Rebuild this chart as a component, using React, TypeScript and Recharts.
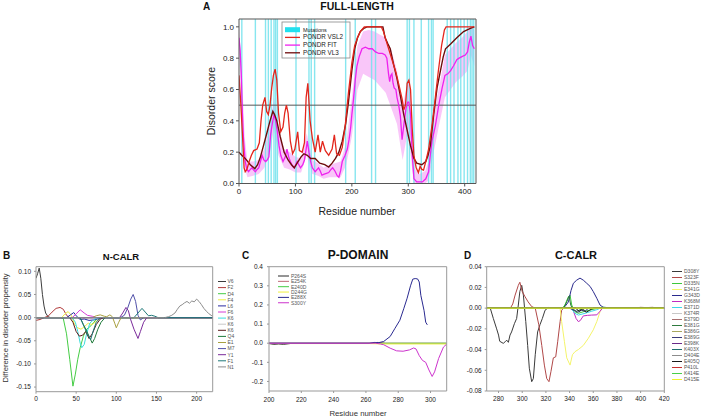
import React from 'react';
import { ComposedChart, Line, Area, XAxis, YAxis, ReferenceLine } from 'recharts';

const FONT = '"Liberation Sans", Arial, Helvetica, sans-serif';
const PW = 708;
const PH = 418;
const AXW = 30; // y-axis box width
const AXH = 20; // x-axis box height

// ---------------- Panel A: full length ----------------
const aXTicks = [0, 100, 200, 300, 400];
const aYTicks = [0, 0.2, 0.4, 0.6, 0.8, 1.0];
const mutations = [5, 29, 47, 52, 57, 62, 65, 68, 101, 124, 128, 134, 189, 206, 235, 242, 298, 302, 310, 323, 336, 341, 344, 369, 375, 381, 388, 393, 399, 405, 410, 413, 416];

const vsl2 = [[0,0.69],[3,0.52],[6,0.32],[9,0.1],[11,0.075],[14,0.09],[18,0.14],[22,0.18],[26,0.21],[32,0.22],[36,0.26],[39,0.4],[42,0.5],[46,0.55],[49,0.46],[52,0.44],[55,0.5],[58,0.61],[61,0.69],[64,0.73],[67,0.66],[70,0.45],[74,0.33],[78,0.36],[81,0.45],[84,0.5],[87,0.45],[91,0.27],[95,0.19],[99,0.22],[104,0.33],[107,0.21],[112,0.2],[116,0.26],[119,0.55],[122,0.64],[126,0.4],[130,0.29],[135,0.2],[140,0.31],[144,0.2],[148,0.27],[153,0.21],[159,0.18],[165,0.22],[169,0.31],[173,0.19],[178,0.18],[183,0.23],[188,0.36],[194,0.58],[200,0.77],[205,0.88],[210,0.93],[215,0.97],[222,1.0],[252,1.0],[256,0.97],[260,0.92],[266,0.85],[272,0.78],[278,0.71],[284,0.62],[289,0.54],[292,0.47],[295,0.5],[298,0.64],[301,0.66],[304,0.6],[307,0.35],[310,0.18],[314,0.1],[318,0.07],[321,0.11],[324,0.09],[327,0.085],[331,0.14],[336,0.22],[342,0.37],[347,0.52],[353,0.71],[359,0.88],[364,0.98],[367,1.0],[417,1.0]];

const fit = [[0,0.93],[2,0.85],[4,0.7],[6,0.45],[8,0.28],[11,0.14],[14,0.09],[17,0.075],[20,0.09],[23,0.1],[26,0.085],[29,0.075],[32,0.09],[35,0.1],[38,0.14],[41,0.18],[44,0.15],[47,0.14],[50,0.15],[53,0.17],[56,0.31],[59,0.38],[62,0.44],[65,0.4],[68,0.33],[71,0.24],[74,0.18],[78,0.14],[82,0.17],[85,0.22],[88,0.17],[91,0.14],[95,0.11],[98,0.1],[103,0.14],[106,0.12],[109,0.1],[113,0.12],[116,0.15],[119,0.22],[121,0.27],[124,0.2],[127,0.14],[130,0.1],[135,0.075],[141,0.1],[144,0.08],[147,0.053],[151,0.06],[155,0.065],[159,0.07],[163,0.09],[166,0.1],[170,0.08],[174,0.05],[177,0.04],[180,0.08],[183,0.14],[188,0.18],[192,0.22],[195,0.28],[198,0.36],[200,0.44],[203,0.54],[206,0.66],[209,0.75],[213,0.81],[218,0.86],[224,0.87],[230,0.86],[236,0.86],[242,0.84],[248,0.83],[254,0.83],[259,0.82],[262,0.8],[265,0.7],[267,0.65],[269,0.69],[271,0.7],[273,0.64],[275,0.61],[278,0.6],[280,0.55],[283,0.5],[286,0.43],[289,0.28],[291,0.34],[293,0.4],[296,0.48],[299,0.52],[301,0.52],[304,0.44],[307,0.18],[310,0.03],[315,0.01],[320,0.01],[325,0.01],[331,0.03],[336,0.075],[339,0.18],[342,0.27],[348,0.37],[354,0.5],[360,0.61],[365,0.69],[370,0.7],[375,0.72],[380,0.75],[386,0.79],[390,0.8],[395,0.81],[401,0.82],[405,0.84],[408,0.9],[411,0.94],[414,0.88],[417,0.86]];

const vl3 = [[0,0.2],[5,0.18],[11,0.16],[20,0.12],[28,0.095],[33,0.12],[38,0.17],[44,0.25],[50,0.33],[55,0.4],[60,0.46],[63,0.44],[67,0.4],[73,0.3],[80,0.2],[87,0.15],[93,0.12],[98,0.1],[103,0.13],[110,0.17],[115,0.19],[121,0.18],[127,0.16],[135,0.16],[143,0.13],[152,0.12],[159,0.105],[165,0.13],[171,0.16],[177,0.2],[183,0.27],[189,0.38],[194,0.52],[200,0.72],[205,0.86],[210,0.93],[215,0.97],[221,0.99],[227,1.0],[255,1.0],[259,0.93],[264,0.89],[268,0.86],[274,0.76],[280,0.67],[286,0.56],[292,0.44],[298,0.34],[304,0.24],[310,0.16],[315,0.13],[324,0.12],[331,0.14],[335,0.18],[339,0.24],[345,0.44],[351,0.61],[357,0.72],[362,0.81],[366,0.86],[375,0.89],[386,0.93],[398,0.97],[410,0.99],[417,1.0]];

// FIT error band: [residue, low, high]
const fitBand = [[0,0.85,1.0],[5,0.5,0.72],[10,0.1,0.3],[15,0.04,0.14],[25,0.05,0.14],[35,0.06,0.15],[45,0.1,0.22],[55,0.2,0.38],[62,0.35,0.55],[70,0.18,0.33],[80,0.1,0.22],[90,0.09,0.2],[100,0.07,0.17],[110,0.07,0.16],[120,0.18,0.32],[130,0.06,0.15],[140,0.05,0.13],[150,0.03,0.1],[160,0.04,0.12],[170,0.04,0.13],[180,0.04,0.14],[190,0.12,0.26],[200,0.3,0.55],[210,0.6,0.88],[220,0.7,0.97],[230,0.68,0.98],[240,0.66,0.97],[250,0.62,0.95],[260,0.58,0.93],[270,0.48,0.85],[280,0.38,0.72],[290,0.15,0.5],[300,0.35,0.66],[306,0.12,0.5],[310,0.0,0.1],[320,0.0,0.06],[330,0.0,0.08],[336,0.02,0.14],[345,0.2,0.45],[355,0.38,0.62],[365,0.55,0.82],[375,0.6,0.86],[385,0.65,0.9],[395,0.68,0.93],[405,0.72,0.97],[411,0.82,1.0],[417,0.75,0.98]];

const aLegendLabels = ['Mutations', 'PONDR VSL2', 'PONDR FIT', 'PONDR VL3'];
const aLegendColors = ['#22e0ee', '#e3261c', '#ee22ee', '#6e0c0c'];

// ---------------- Panel B: N-CALR ----------------
const bXTicks = [0, 50, 100, 150, 200];
const bYTicks = [-0.15, -0.1, -0.05, 0, 0.05, 0.1];
const nV6 = [[0,0.085],[2,0.095],[4,0.107],[6,0.085],[8,0.05],[10,0.025],[12,0.01],[15,0.002],[18,0],[220,0]];
const nF2 = [[0,-0.006],[5,-0.004],[10,0],[15,0.003],[20,0.012],[25,0.02],[30,0.022],[34,0.018],[38,0.005],[42,0],[220,0]];
const nD4 = [[0,0],[30,0],[34,-0.002],[38,-0.035],[42,-0.09],[46,-0.148],[49,-0.122],[52,-0.09],[55,-0.065],[59,-0.04],[63,-0.025],[67,-0.02],[72,-0.01],[76,-0.002],[80,0],[220,0]];
const nF4 = [[0,0],[32,0],[36,0.008],[40,0.013],[44,0.005],[48,-0.015],[52,-0.022],[56,-0.025],[60,-0.02],[65,-0.012],[70,-0.015],[75,-0.008],[80,0],[220,0]];
const nL6 = [[0,0],[38,0],[43,0.006],[47,0.011],[51,0.002],[55,-0.004],[60,-0.003],[66,-0.006],[72,-0.005],[78,-0.002],[85,0],[220,0]];
const nF6 = [[0,0],[45,0],[50,0.008],[55,0.017],[60,0.01],[64,0.005],[70,0.003],[75,0],[220,0]];
const nK6a = [[0,0],[45,0],[49,-0.01],[52,-0.03],[55,-0.055],[57,-0.065],[60,-0.058],[63,-0.035],[67,-0.012],[72,-0.004],[78,0],[220,0]];
const nK6b = [[0,0],[220,0]];
const nK6c = [[0,0],[42,0],[46,-0.01],[50,-0.03],[54,-0.04],[58,-0.038],[62,-0.03],[66,-0.045],[70,-0.035],[75,-0.015],[80,-0.003],[85,0],[220,0]];
const nQ4 = [[0,0],[55,0],[59,-0.015],[62,-0.025],[66,-0.04],[70,-0.055],[73,-0.045],[77,-0.025],[81,-0.01],[86,0],[220,0]];
const nE1 = [[0,0],[70,0],[75,0.004],[80,0.006],[85,0.003],[88,0.002],[92,0.006],[95,0.002],[98,-0.012],[100,-0.022],[103,-0.01],[106,0],[220,0]];
const nM7 = [[0,0],[105,0],[110,0.005],[114,0.02],[118,0.04],[121,0.05],[124,0.035],[127,0.005],[130,-0.005],[134,0],[220,0]];
const nY1 = [[0,0],[104,0],[108,0.01],[112,0.022],[115,0.015],[118,-0.005],[122,-0.025],[127,-0.045],[130,-0.03],[134,-0.01],[138,0],[220,0]];
const nF1 = [[0,0],[55,0],[60,-0.02],[64,-0.035],[68,-0.048],[71,-0.03],[75,-0.01],[80,0],[122,0],[127,0.01],[132,0.02],[136,0.012],[140,0.004],[144,0.005],[148,0.003],[152,0],[220,0]];
const nN1 = [[0,0],[160,0],[165,0.002],[169,0.005],[173,0.01],[176,0.018],[179,0.025],[182,0.028],[185,0.032],[188,0.035],[191,0.031],[194,0.036],[197,0.034],[200,0.04],[203,0.035],[206,0.028],[209,0.02],[212,0.014],[215,0.009],[218,0.005],[220,0.003]];
const nData = [nV6, nF2, nD4, nF4, nL6, nF6, nK6a, nK6b, nK6c, nQ4, nE1, nM7, nY1, nF1, nN1];
const nLabels = ['V6', 'F2', 'D4', 'F4', 'L6', 'F6', 'K6', 'K6', 'K6', 'Q4', 'E1', 'M7', 'Y1', 'F1', 'N1'];
const nColors = ['#3c3c3c', '#b03a3a', '#44cc44', '#eeee44', '#2a2aa0', '#d63cd6', '#3cdcdc', '#c8c8c8', '#5a1a1a', '#1e7a3a', '#a8a040', '#5050a8', '#7a2a9a', '#1f7878', '#8c8c8c'];

// ---------------- Panel C: P-domain ----------------
const cXTicks = [200, 220, 240, 260, 280, 300];
const cYTicks = [-0.2, -0.1, 0, 0.1, 0.2, 0.3, 0.4];
const cP264S = [[200,-0.002],[203,-0.006],[206,-0.004],[209,-0.006],[213,-0.002]];
const cE254K = [[200,0],[264,0],[267,0.004],[270,0.003],[272,0],[310,0]];
const cE240D = [[200,0],[310,0]];
const cD244G = [[200,-0.002],[262,-0.002],[270,-0.004],[310,-0.004]];
const cE288X = [[200,0],[262,0],[265,0.004],[268,0.003],[271,0.009],[275,0.035],[278,0.078],[281,0.12],[283.4,0.18],[285.5,0.235],[287.6,0.3],[289,0.335],[290.5,0.338],[292,0.336],[293,0.32],[294,0.25],[296,0.17],[297,0.11],[298,0.096]];
const cS300Y = [[200,0],[266,0],[269,-0.004],[271,-0.008],[275,-0.026],[279,-0.04],[283,-0.042],[287,-0.035],[289.5,-0.025],[291,-0.03],[293,-0.065],[295,-0.09],[297,-0.1],[299,-0.14],[301,-0.174],[302.5,-0.15],[305,-0.08],[308,-0.02],[310,-0.005]];
const pData = [cP264S, cE254K, cE240D, cD244G, cE288X, cS300Y];
const pLabels = ['P264S', 'E254K', 'E240D', 'D244G', 'E288X', 'S300Y'];
const pColors = ['#2a2a2a', '#c06878', '#44cc44', '#f0f040', '#2a2a90', '#cc33cc'];

// ---------------- Panel D: C-CALR ----------------
const dXTicks = [280, 300, 320, 340, 360, 380, 400, 420];
const dYTicks = [-0.08, -0.06, -0.04, -0.02, 0, 0.02, 0.04];
const dD308Y = [[270,0],[273,0],[275.6,-0.01],[278.4,-0.02],[280,-0.026],[281,-0.032],[284,-0.034],[286,-0.032],[287,-0.031],[288.3,-0.033],[289.7,-0.026],[291,-0.023],[293.4,-0.015],[295.3,-0.01],[296.7,0.003],[298,0.016],[299.6,0.022],[301,0.0125],[303,-0.013],[304.6,-0.036],[306,-0.058],[308,-0.071],[309.4,-0.068],[311,-0.045],[313,-0.023],[315,-0.016],[317,-0.01],[319.3,-0.002],[322,0.0005],[325,0],[420,0]];
const dS323F = [[270,0],[290,0],[292,0.004],[294,0.0126],[296.7,0.022],[298,0.025],[300,0.016],[302.4,0.011],[305,0.006],[308,0.0015],[311,0],[314,-0.016],[316.5,-0.036],[318.7,-0.055],[320.7,-0.068],[322.6,-0.071],[324.3,-0.061],[326.3,-0.048],[328.3,-0.047],[330,-0.032],[332,-0.013],[333.3,-0.002],[335,0],[420,0]];
const dD335N = [[270,0],[334,0],[336,0.003],[339,0.011],[340.4,0.0126],[341.8,0.003],[344.6,-0.0035],[347.4,-0.005],[353,-0.003],[358.7,-0.0015],[364,0],[420,0]];
const dE341G = [[270,0],[332,0],[333.3,-0.013],[335.6,-0.032],[337.6,-0.048],[340.4,-0.055],[342.4,-0.045],[344.6,-0.042],[347.4,-0.04],[351.6,-0.036],[355.9,-0.029],[360,-0.021],[363,-0.013],[365.7,-0.0035],[367,0],[420,0]];
const dG343D = [[270,0],[334,0],[336,0.0014],[339,0.006],[341.2,0.017],[343.2,0.024],[346,0.027],[348.8,0.029],[351.6,0.027],[354.5,0.024],[357.3,0.021],[360,0.016],[363,0.0095],[365.7,0.003],[368.5,0.0007],[372,0],[420,0]];
const dK368M = [[270,0],[340,0],[343,-0.002],[345.5,-0.01],[347.4,-0.013],[349,-0.012],[351.6,-0.0075],[355,-0.007],[358.7,-0.0067],[363,-0.0065],[365.7,-0.003],[368,0],[420,0]];
const dE371D = [[270,0],[341,0],[344.6,-0.005],[347.4,-0.0067],[353,-0.005],[358.7,-0.003],[363,-0.0015],[366,0],[420,0]];
const dK374R = [[270,0],[420,0]];
const dE379D = [[270,0],[395,0],[400,0.0008],[405,0.0005],[410,0.0008],[415,0],[420,0]];
const dE381G = [[270,0],[335,0],[337.6,0.006],[339.5,0.0115],[341,0.003],[343,-0.002],[346,-0.003],[350,-0.001],[355,0],[420,0]];
const dE386G = [[270,0],[420,0]];
const dE389G = [[270,0],[340,0],[344,-0.002],[347,-0.004],[350,-0.002],[353,-0.003],[356,0],[420,0]];
const dE398K = [[270,0],[420,0]];
const dK403X = [[270,0],[365,0],[368,0.001],[372,0.0005],[376,0],[420,0]];
const dD404E = [[270,0],[420,0]];
const dE405Q = [[270,0],[345,0],[348,-0.003],[351,-0.001],[354,-0.004],[357,-0.002],[360,0],[420,0]];
const dP410L = [[270,0],[420,0]];
const dK414E = [[270,0],[420,0]];
const dD415E = [[270,0],[420,0]];
const cData = [dD308Y, dS323F, dD335N, dE341G, dG343D, dK368M, dE371D, dK374R, dE379D, dE381G, dE386G, dE389G, dE398K, dK403X, dD404E, dE405Q, dP410L, dK414E, dD415E];
const cLabels = ['D308Y', 'S323F', 'D335N', 'E341G', 'G343D', 'K368M', 'E371D', 'K374R', 'E379D', 'E381G', 'E386G', 'E389G', 'E398K', 'K403X', 'D404E', 'E405Q', 'P410L', 'K414E', 'D415E'];
const cColors = ['#3a3a3a', '#b04848', '#3cc83c', '#f4f46a', '#2a2a8c', '#c02cc0', '#3ed8e8', '#c8c8c8', '#a87070', '#2e7a3e', '#a8a860', '#3a3a7a', '#6a2a8a', '#1f6f6f', '#8c8c8c', '#1a1a1a', '#c83030', '#48d048', '#f0f030'];

// ---------------- helpers ----------------
const rows = (pts: number[][]) => pts.map(([x, y]) => ({ x, y }));
const bandRows = (pts: number[][]) => pts.map(([x, lo, hi]) => ({ x, r: [lo, hi] }));

type Cfg = {
  plot: { x0: number; y0: number; x1: number; y1: number };
  xd: [number, number];
  yd: [number, number];
  xt: number[];
  yt: number[];
  dec: number;
  fs: number;
  frame: string;
  ts: number;
  tm: number;
};

function panel(cfg: Cfg, series: React.ReactNode[]) {
  const { plot } = cfg;
  const tickStyle = { fontSize: cfg.fs, fill: '#222', fontFamily: FONT };
  return (
    <div style={{ position: 'absolute', left: 0, top: 0 }}>
      <ComposedChart
        width={PW}
        height={PH}
        margin={{ left: plot.x0 - AXW, top: plot.y0, right: PW - plot.x1, bottom: PH - plot.y1 - AXH }}
      >
        <XAxis
          type="number"
          dataKey="x"
          domain={cfg.xd}
          ticks={cfg.xt}
          allowDataOverflow
          interval={0}
          height={AXH}
          axisLine={{ stroke: cfg.frame }}
          tickLine={{ stroke: cfg.frame }}
          tickSize={cfg.ts}
          tickMargin={cfg.tm}
          tick={tickStyle}
        />
        <YAxis
          type="number"
          domain={cfg.yd}
          ticks={cfg.yt}
          allowDataOverflow
          interval={0}
          width={AXW}
          axisLine={{ stroke: cfg.frame }}
          tickLine={{ stroke: cfg.frame }}
          tickSize={cfg.ts}
          tickMargin={cfg.tm}
          tick={tickStyle}
          tickFormatter={(v: number) => v.toFixed(cfg.dec)}
        />
        {series}
        <ReferenceLine x={cfg.xd[1]} stroke={cfg.frame} ifOverflow="visible" />
        <ReferenceLine y={cfg.yd[1]} stroke={cfg.frame} ifOverflow="visible" />
      </ComposedChart>
    </div>
  );
}

const lineProps = { dot: false, activeDot: false, isAnimationActive: false, type: 'linear' as const };

export default function App() {
  const aCfg: Cfg = { plot: { x0: 239, y0: 19, x1: 476, y1: 183.5 }, xd: [0, 420], yd: [0, 1.05], xt: aXTicks, yt: aYTicks, dec: 1, fs: 8, frame: '#555', ts: 3, tm: 2 };
  const bCfg: Cfg = { plot: { x0: 36, y0: 266.7, x1: 212.7, y1: 391.7 }, xd: [0, 220], yd: [-0.16, 0.11], xt: bXTicks, yt: bYTicks, dec: 2, fs: 6.5, frame: '#999', ts: 2, tm: 3 };
  const cCfg: Cfg = { plot: { x0: 269, y0: 266.7, x1: 446.7, y1: 391 }, xd: [200, 310], yd: [-0.25, 0.4], xt: cXTicks, yt: cYTicks, dec: 1, fs: 6.5, frame: '#999', ts: 2, tm: 4 };
  const dCfg: Cfg = { plot: { x0: 486.7, y0: 266.7, x1: 664.3, y1: 391 }, xd: [270, 420], yd: [-0.08, 0.04], xt: dXTicks, yt: dYTicks, dec: 2, fs: 6.5, frame: '#999', ts: 2, tm: 3 };

  const aSeries: React.ReactNode[] = [
    <Area key="band" data={bandRows(fitBand)} dataKey="r" type="linear" stroke="none" fill="#f068f0" fillOpacity={0.38} isAnimationActive={false} activeDot={false} />,
    ...mutations.map((m) => (
      <Line key={'mut' + m} {...lineProps} data={[{ x: m, y: 0 }, { x: m, y: 1.05 }]} dataKey="y" stroke="#72e2ec" strokeWidth={1.4} strokeOpacity={0.85} />
    )),
    <ReferenceLine key="half" y={0.5} stroke="#555" strokeWidth={1} />,
    <Line key="fit" {...lineProps} data={rows(fit)} dataKey="y" stroke="#ee22ee" strokeWidth={1.3} />,
    <Line key="vl3" {...lineProps} data={rows(vl3)} dataKey="y" stroke="#6e0c0c" strokeWidth={1.4} />,
    <Line key="vsl2" {...lineProps} data={rows(vsl2)} dataKey="y" stroke="#e3261c" strokeWidth={1.3} />,
  ];

  const mk = (data: number[][][], colors: string[], prefix: string) =>
    data.map((d, i) => (
      <Line key={prefix + i} {...lineProps} data={rows(d)} dataKey="y" stroke={colors[i]} strokeWidth={1} />
    ));

  const legendText = { fontFamily: FONT, fontSize: 5, fill: '#555' };

  return (
    <div style={{ position: 'absolute', left: 0, top: 0, width: PW, height: PH, background: '#fff', overflow: 'hidden' }}>
      {panel(aCfg, aSeries)}
      {panel(bCfg, mk(nData, nColors, 'n'))}
      {panel(cCfg, mk(pData, pColors, 'p'))}
      {panel(dCfg, mk(cData, cColors, 'c'))}
      <svg width={PW} height={PH} style={{ position: 'absolute', left: 0, top: 0, pointerEvents: 'none' }}>
        <text x={203} y={10} fontFamily={FONT} fontSize={10} fontWeight="bold" fill="#111">A</text>
        <text x={357} y={10} textAnchor="middle" fontFamily={FONT} fontSize={10.5} fontWeight="bold" fill="#111">FULL-LENGTH</text>
        <text x={357} y={215} textAnchor="middle" fontFamily={FONT} fontSize={10.5} fill="#222">Residue number</text>
        <text transform="translate(215,101) rotate(-90)" textAnchor="middle" fontFamily={FONT} fontSize={10.5} fill="#222">Disorder score</text>
        <rect x={282} y={22} width={68} height={36} fill="none" stroke="#888" strokeWidth={0.8} />
        {aLegendLabels.map((lab, i) => {
          const y = 29.7 + i * 7.7;
          return (
            <g key={lab}>
              {i === 0 ? (
                <rect x={285} y={y - 2.5} width={15} height={5} fill={aLegendColors[i]} />
              ) : (
                <line x1={285} x2={300} y1={y} y2={y} stroke={aLegendColors[i]} strokeWidth={1.3} />
              )}
              <text x={303} y={y + 2} fontFamily={FONT} fontSize={i === 0 ? 5.5 : 6.3} fill="#222">{lab}</text>
            </g>
          );
        })}

        <text x={3} y={259} fontFamily={FONT} fontSize={10} fontWeight="bold" fill="#111">B</text>
        <text x={121} y={260} textAnchor="middle" fontFamily={FONT} fontSize={9.5} fontWeight="bold" fill="#111">N-CALR</text>
        <text transform="translate(8,328) rotate(-90)" textAnchor="middle" fontFamily={FONT} fontSize={7.6} fill="#333">Difference in disorder propensity</text>
        {nLabels.map((lab, i) => {
          const y = 281.5 + i * 6.1;
          return (
            <g key={'nl' + i}>
              <line x1={218} x2={226} y1={y} y2={y} stroke={nColors[i]} strokeWidth={1} />
              <text x={227.5} y={y + 1.8} {...legendText}>{lab}</text>
            </g>
          );
        })}

        <text x={242} y={259} fontFamily={FONT} fontSize={10} fontWeight="bold" fill="#111">C</text>
        <text x={358} y={259} textAnchor="middle" fontFamily={FONT} fontSize={12} fontWeight="bold" fill="#111">P-DOMAIN</text>
        <text x={358} y={416} textAnchor="middle" fontFamily={FONT} fontSize={7.8} fill="#333">Residue number</text>
        {pLabels.map((lab, i) => {
          const y = 276 + i * 5.35;
          return (
            <g key={'pl' + i}>
              <line x1={278} x2={289} y1={y} y2={y} stroke={pColors[i]} strokeWidth={1} />
              <text x={291} y={y + 1.8} {...legendText}>{lab}</text>
            </g>
          );
        })}

        <text x={464} y={259} fontFamily={FONT} fontSize={10} fontWeight="bold" fill="#111">D</text>
        <text x={576} y={259} textAnchor="middle" fontFamily={FONT} fontSize={11} fontWeight="bold" fill="#111">C-CALR</text>
        {cLabels.map((lab, i) => {
          const y = 271.5 + i * 6.0;
          return (
            <g key={'cl' + i}>
              <line x1={672} x2={682} y1={y} y2={y} stroke={cColors[i]} strokeWidth={1} />
              <text x={684} y={y + 1.8} {...legendText}>{lab}</text>
            </g>
          );
        })}
      </svg>
    </div>
  );
}
